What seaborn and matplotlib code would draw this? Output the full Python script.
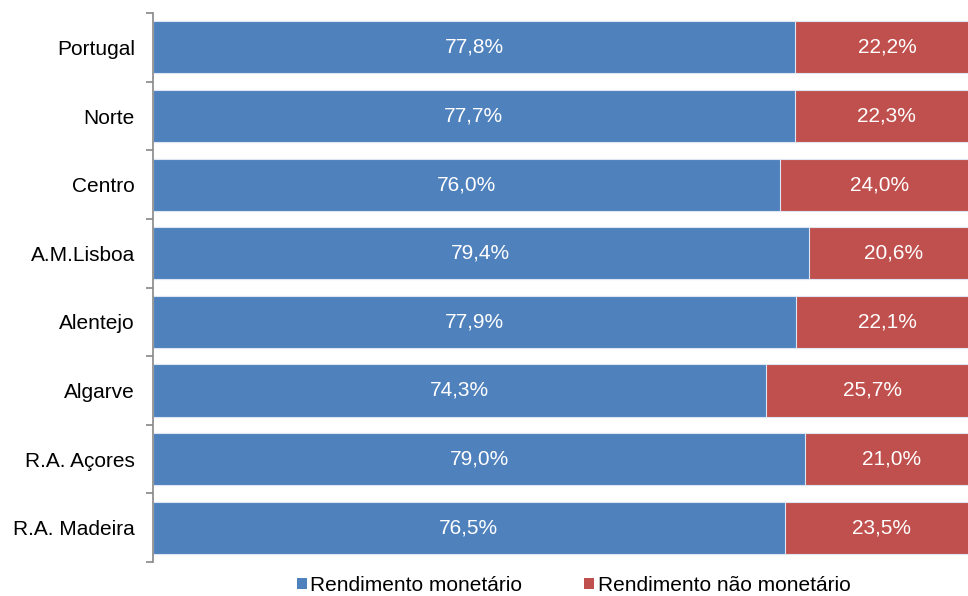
import seaborn as sns
import matplotlib.pyplot as plt
import numpy as np
import pandas as pd
from matplotlib.patches import Patch

# Data
regioes = ["Portugal", "Norte", "Centro", "A.M.Lisboa", "Alentejo",
           "Algarve", "R.A. Açores", "R.A. Madeira"]
monetario = [77.8, 77.7, 76.0, 79.4, 77.9, 74.3, 79.0, 76.5]
nao_monetario = [22.2, 22.3, 24.0, 20.6, 22.1, 25.7, 21.0, 23.5]
series_names = ["Rendimento monetário", "Rendimento não monetário"]

blue = "#4F81BD"
red = "#C0504D"

df = pd.DataFrame({"regiao": regioes, "mon": monetario, "nmon": nao_monetario})
df["total"] = df["mon"] + df["nmon"]

sns.set_style("white")
plt.rcParams["font.family"] = ["Liberation Sans", "DejaVu Sans"]
plt.rcParams["text.color"] = "black"
plt.rcParams["ytick.labelcolor"] = "black"

fig = plt.figure(figsize=(9.68, 5.96), dpi=100)
# the value axis runs a little past the right edge of the picture
ax = fig.add_axes([0.158, 0.057, 0.853, 0.921])

# red drawn as the full stack, blue on top of it
sns.barplot(data=df, y="regiao", x="total", color=red, width=0.76,
            edgecolor="#dde6f2", linewidth=0.8, saturation=1, ax=ax)
sns.barplot(data=df, y="regiao", x="mon", color=blue, width=0.76,
            edgecolor="#dde6f2", linewidth=0.8, saturation=1, ax=ax)

def fmt(v):
    return f"{v:.1f}%".replace(".", ",")

# labels centred in each segment
for i, (m, n) in enumerate(zip(monetario, nao_monetario)):
    ax.text(m / 2, i, fmt(m), ha="center", va="center", color="white", fontsize=15)
    ax.text(m + n / 2, i, fmt(n), ha="center", va="center", color="white", fontsize=15)

ax.set_xlim(0, 100)
ax.set_ylim(len(regioes) - 0.5, -0.5)
ax.set_xlabel("")
ax.set_ylabel("")
ax.set_xticks([])
ax.tick_params(axis="y", which="major", length=0, labelsize=15, pad=13, labelcolor="black")
ax.set_yticks(np.arange(-0.5, len(regioes)), minor=True)
ax.tick_params(axis="y", which="minor", left=True, length=5, width=1.2,
               color="#888888", direction="out")

for s in ["top", "right", "bottom"]:
    ax.spines[s].set_visible(False)
ax.spines["left"].set_color("#888888")
ax.spines["left"].set_linewidth(1.2)

handles = [Patch(facecolor=blue, edgecolor="none"), Patch(facecolor=red, edgecolor="none")]
fig.legend(handles, series_names, loc="center", bbox_to_anchor=(0.5925, 0.018),
           ncol=2, frameon=False, fontsize=15, handlelength=0.48, handleheight=0.48,
           handletextpad=0.15, columnspacing=3.0, borderaxespad=0)

fig.savefig("out.png", dpi=100)
